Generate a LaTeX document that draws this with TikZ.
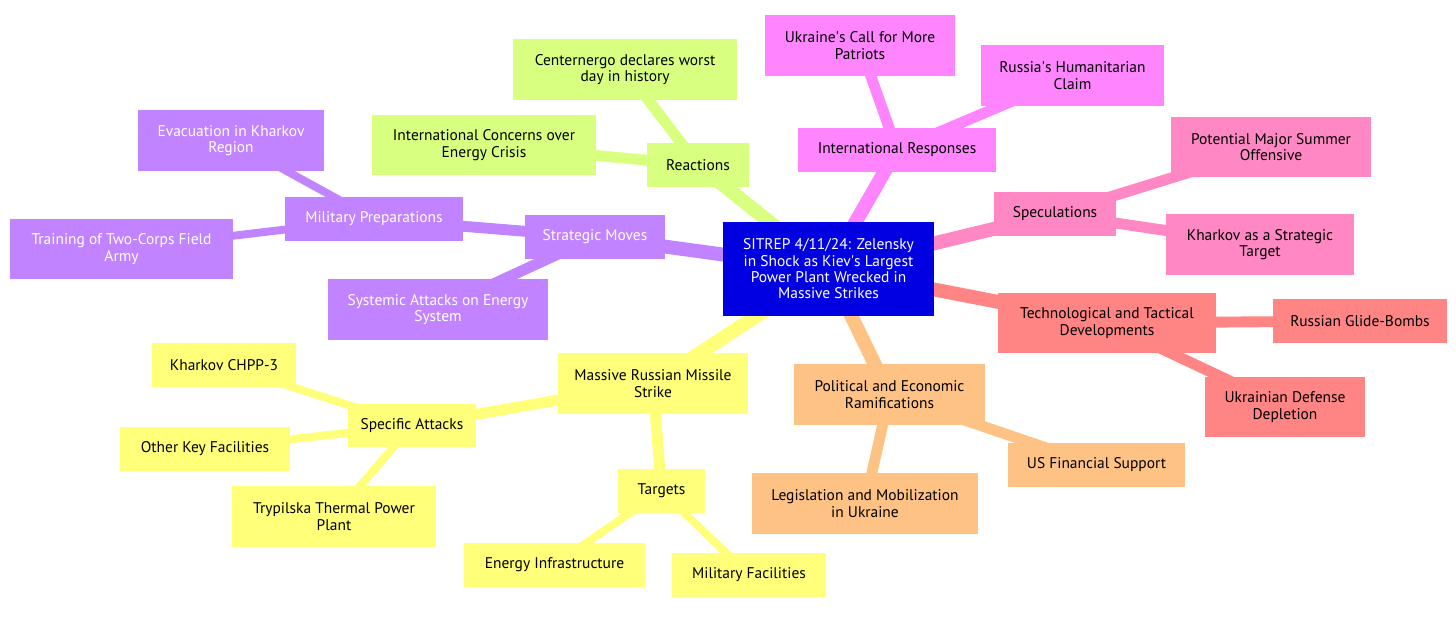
\documentclass[tikz,border=0pt]{standalone}
\usepackage{fontspec}
\setmainfont{PT Sans}
\usetikzlibrary{backgrounds}
\definecolor{rootcol}{RGB}{0,0,224}
\definecolor{movescol}{RGB}{193,131,255}
\definecolor{reactcol}{RGB}{216,255,128}
\definecolor{intlcol}{RGB}{255,133,255}
\definecolor{speccol}{RGB}{255,136,196}
\definecolor{techcol}{RGB}{255,133,133}
\definecolor{politcol}{RGB}{255,194,133}
\definecolor{strikecol}{RGB}{255,255,122}
\begin{document}
\begin{tikzpicture}[
  x=0.02cm, y=-0.02cm,
  font=\fontsize{8.8}{9.3}\selectfont,
  box/.style 2 args={rectangle, align=center, inner sep=0pt, minimum width=#1*0.02cm, minimum height=#2*0.02cm},
  rootnode/.style={fill=rootcol, text=white},
  moves/.style={fill=movescol, text=white},
  react/.style={fill=reactcol},
  intl/.style={fill=intlcol},
  spec/.style={fill=speccol},
  tech/.style={fill=techcol},
  polit/.style={fill=politcol},
  strike/.style={fill=strikecol},
  e1/.style={line width=7.9pt},
  e2/.style={line width=6.2pt},
  e3/.style={line width=4.5pt}
]
\useasboundingbox (0,0) rectangle (1456,622);

\node[box={211}{94}, rootnode] (root) at (828.5,269) {SITREP 4/11/24: Zelensky\\in Shock as Kiev\textquotesingle s Largest\\Power Plant Wrecked in\\Massive Strikes};

% strategic moves
\node[box={140}{44}, moves] (moves) at (595,237) {Strategic Moves};
\node[box={178}{44}, moves] (milprep) at (374,219) {Military Preparations};
\node[box={186}{61}, moves] (evac) at (231,140.5) {Evacuation in Kharkov\\Region};
\node[box={223}{60}, moves] (training) at (121.5,249) {Training of Two-Corps Field\\Army};
\node[box={220}{61}, moves] (systemic) at (438,309.5) {Systemic Attacks on Energy\\System};

% reactions
\node[box={102}{44}, react] (react) at (698,165) {Reactions};
\node[box={224}{61}, react] (centernergo) at (625,69.5) {Centernergo declares worst\\day in history};
\node[box={224}{60}, react] (concerns) at (484,145) {International Concerns over\\Energy Crisis};

% international responses
\node[box={198}{44}, intl] (intl) at (897,150) {International Responses};
\node[box={190}{61}, intl] (patriots) at (860,45.5) {Ukraine\textquotesingle s Call for More\\Patriots};
\node[box={183}{61}, intl] (humanit) at (1072.5,75.5) {Russia\textquotesingle s Humanitarian\\Claim};

% speculations
\node[box={122}{44}, spec] (spec) at (1055,214) {Speculations};
\node[box={200}{60}, spec] (summer) at (1271,147) {Potential Major Summer\\Offensive};
\node[box={188}{61}, spec] (kharkovtgt) at (1260,244.5) {Kharkov as a Strategic\\Target};

% technological and tactical
\node[box={218}{60}, tech] (tech) at (1107,323) {Technological and Tactical\\Developments};
\node[box={174}{44}, tech] (glide) at (1360,321) {Russian Glide-Bombs};
\node[box={160}{60}, tech] (depletion) at (1285,407) {Ukrainian Defense\\Depletion};

% political and economic
\node[box={191}{61}, polit] (polit) at (889.5,394.5) {Political and Economic\\Ramifications};
\node[box={177}{44}, polit] (usfin) at (1096.5,465) {US Financial Support};
\node[box={226}{61}, polit] (legis) at (865,503.5) {Legislation and Mobilization\\in Ukraine};

% missile strike
\node[box={190}{61}, strike] (strike) at (653,383.5) {Massive Russian Missile\\Strike};
\node[box={128}{43}, strike] (specific) at (412,425.5) {Specific Attacks};
\node[box={144}{44}, strike] (chpp) at (224,365) {Kharkov CHPP-3};
\node[box={170}{44}, strike] (otherkey) at (205,449) {Other Key Facilities};
\node[box={204}{61}, strike] (trypilska) at (334,516.5) {Trypilska Thermal Power\\Plant};
\node[box={87}{44}, strike] (targets) at (661.5,491) {Targets};
\node[box={181}{44}, strike] (energy) at (554.5,565) {Energy Infrastructure};
\node[box={154}{44}, strike] (milfac) at (749,575) {Military Facilities};

\begin{scope}[on background layer]
\draw[e1, movescol] (root.center) -- (moves.center);
\draw[e2, movescol] (moves.center) -- (milprep.center);
\draw[e3, movescol] (milprep.center) -- (evac.center);
\draw[e3, movescol] (milprep.center) -- (training.center);
\draw[e2, movescol] (moves.center) -- (systemic.center);

\draw[e1, reactcol] (root.center) -- (react.center);
\draw[e2, reactcol] (react.center) -- (centernergo.center);
\draw[e2, reactcol] (react.center) -- (concerns.center);

\draw[e1, intlcol] (root.center) -- (intl.center);
\draw[e2, intlcol] (intl.center) -- (patriots.center);
\draw[e2, intlcol] (intl.center) -- (humanit.center);

\draw[e1, speccol] (root.center) -- (spec.center);
\draw[e2, speccol] (spec.center) -- (summer.center);
\draw[e2, speccol] (spec.center) -- (kharkovtgt.center);

\draw[e1, techcol] (root.center) -- (tech.center);
\draw[e2, techcol] (tech.center) -- (glide.center);
\draw[e2, techcol] (tech.center) -- (depletion.center);

\draw[e1, politcol] (root.center) -- (polit.center);
\draw[e2, politcol] (polit.center) -- (usfin.center);
\draw[e2, politcol] (polit.center) -- (legis.center);

\draw[e1, strikecol] (root.center) -- (strike.center);
\draw[e2, strikecol] (strike.center) -- (specific.center);
\draw[e3, strikecol] (specific.center) -- (chpp.center);
\draw[e3, strikecol] (specific.center) -- (otherkey.center);
\draw[e3, strikecol] (specific.center) -- (trypilska.center);
\draw[e2, strikecol] (strike.center) -- (targets.center);
\draw[e3, strikecol] (targets.center) -- (energy.center);
\draw[e3, strikecol] (targets.center) -- (milfac.center);
\end{scope}
\end{tikzpicture}
\end{document}
